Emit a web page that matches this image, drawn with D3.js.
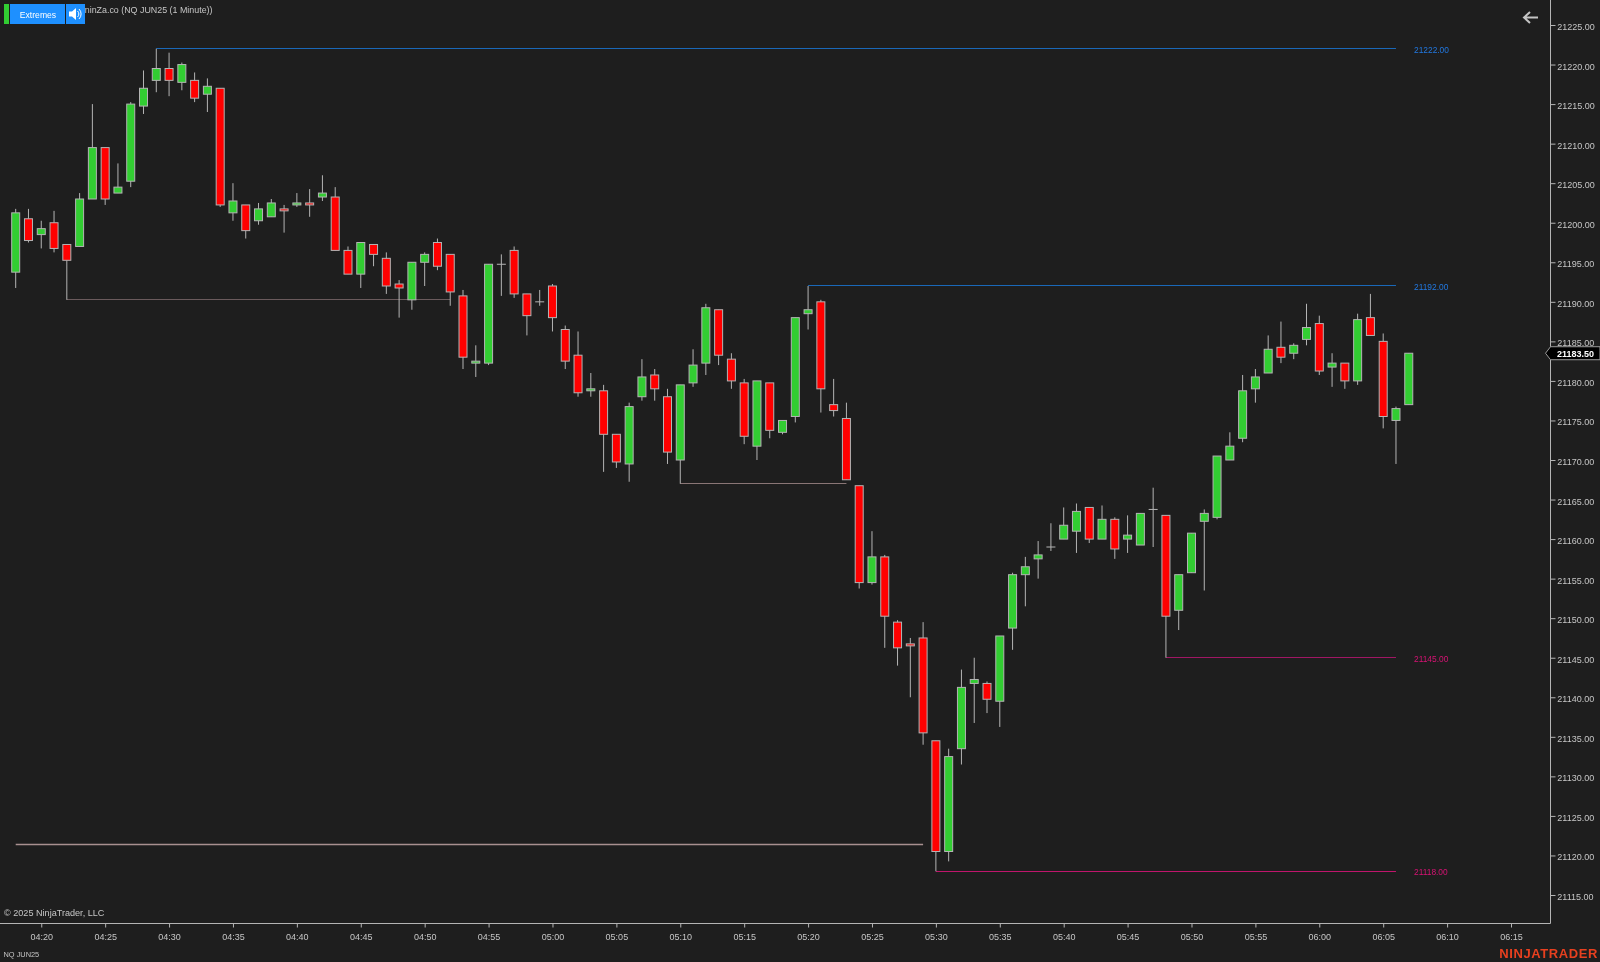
<!DOCTYPE html>
<html>
<head>
<meta charset="utf-8">
<script src="https://cdn.jsdelivr.net/npm/d3@7"></script>
<style>
html, body { margin: 0; padding: 0; background: #1e1e1e; overflow: hidden; }
svg { display: block; filter: blur(0.3px); }
text { font-family: "Liberation Sans", Arial, sans-serif; }
</style>
</head>
<body>
<div id="chart"></div>
<script>
// one candle per minute, first one is 04:18
var firstMinute = 4 * 60 + 18;
var opens = [21193.75,21200.5,21198.5,21200,21197.25,21197,21203,21209.5,21203.75,21205.25,
  21214.75,21218,21219.5,21217.75,21218,21216.25,21217,21201.25,21202.25,21200.25,
  21200.75,21201.75,21202.25,21202.5,21203.25,21203.25,21196.5,21193.5,21197.25,21195.5,
  21192.25,21190.25,21195,21197.5,21196,21190.75,21182.25,21182.25,21194.75,21196.5,
  21191,21190,21192,21186.5,21183.25,21178.75,21178.75,21173.25,21169.5,21178,
  21180.75,21178,21170,21179.75,21182.25,21189,21182.75,21179.75,21171.75,21179.75,
  21173.5,21175.5,21188.5,21190,21177,21175.25,21166.75,21154.5,21157.75,21149.5,
  21146.75,21147.5,21134.5,21120.5,21133.5,21141.75,21141.75,21139.5,21148.75,21155.5,
  21157.5,21159,21160,21161,21164,21160,21162.5,21160,21159.25,21163.75,
  21163,21151,21155.75,21162.25,21162.75,21170,21172.75,21179,21181,21184.25,
  21183.5,21185.25,21187.25,21181.75,21182.25,21180,21188,21185,21175,21177];
var highs = [21201.75,21201.75,21200.25,21201.5,21197.25,21203.75,21215,21209.5,21207.5,21215.25,
  21219.25,21222,21221.5,21220.25,21219,21218.25,21217,21205,21202.25,21202.5,
  21203,21202.25,21203.75,21204.25,21206,21204.5,21197,21197.5,21197.25,21196.25,
  21192.75,21195,21196.25,21198,21196,21191.5,21184.5,21194.75,21196,21197,
  21191,21191.5,21192.25,21187,21186.25,21181,21179.5,21173.25,21177.25,21182.75,
  21181.5,21179,21179.5,21184,21189.75,21189,21183.5,21180.25,21180,21179.75,
  21175,21188,21192,21190.25,21180.25,21177.25,21166.75,21161,21158,21149.75,
  21147.5,21149.5,21134.5,21133.5,21143.5,21145,21142,21147.75,21155.75,21157.75,
  21159.75,21162,21164,21164.5,21164,21164.25,21162.75,21163,21163.25,21166.5,
  21163,21155.5,21160.75,21163.75,21170.5,21173.5,21180.75,21181.5,21185.75,21187.5,
  21184.75,21189.75,21188.25,21183.5,21182.25,21188.5,21191,21186,21176.75,21183.5];
var lows = [21191.75,21197.5,21196.75,21196.25,21190.25,21197,21203,21202.25,21203.75,21204.5,
  21213.75,21216.5,21216,21216.75,21215.25,21214,21202,21200.25,21198,21199.75,
  21200.75,21198.75,21202,21200.75,21202.75,21196.5,21193.5,21191.75,21194.5,21191,
  21188,21189,21192,21194,21189.5,21181.5,21180.5,21182,21190.75,21190.5,
  21185.75,21189.5,21186.25,21181.5,21178,21178,21168.5,21169,21167.25,21177.5,
  21177.5,21169.5,21167,21179.25,21180.75,21182,21179,21172,21170,21172.75,
  21173.25,21174.75,21186.5,21176,21175.5,21167.5,21153.75,21154.25,21146.25,21144,
  21140,21134,21118,21119.25,21131.5,21136.75,21138,21136.25,21146,21151.5,
  21155,21158.5,21160,21158.25,21159.5,21160,21157.5,21158.25,21159.25,21159,
  21145,21148.5,21155.75,21153.5,21162.5,21170,21172.25,21177.25,21181,21182.25,
  21182.75,21184.5,21180.75,21179.25,21179,21179.5,21185.75,21174,21169.5,21177];
var closes = [21201.25,21197.75,21199.25,21196.75,21195.25,21203,21209.5,21203,21204.5,21215,
  21217,21219.5,21218,21220,21215.75,21217.25,21202.25,21202.75,21199,21201.75,
  21202.5,21201.5,21202.5,21202.25,21203.75,21196.5,21193.5,21197.5,21196,21192,
  21191.75,21195,21196,21194.5,21191.25,21183,21182.5,21194.75,21194.75,21191,
  21188.25,21190,21188,21182.5,21178.5,21179,21173.25,21169.75,21176.75,21180.5,
  21179,21171,21179.5,21182,21189.25,21183.25,21180,21173,21180,21173.75,
  21175,21188,21189,21179,21176.25,21167.5,21154.5,21157.75,21150.25,21146.25,
  21146.5,21135.5,21120.5,21132.5,21141.25,21142.25,21139.75,21147.75,21155.5,21156.5,
  21158,21159,21161.75,21163.5,21160,21162.5,21158.75,21160.5,21163.25,21163.75,
  21150.25,21155.5,21160.75,21163.25,21170.5,21171.75,21178.75,21180.5,21184,21183,
  21184.5,21186.75,21181.25,21182.25,21180,21187.75,21185.75,21175.5,21176.5,21183.5];

// extreme lines, start and end are bar numbers
var levelPrices = [21222, 21192, 21190.25, 21167, 21145, 21121.4, 21118];
var levelStarts = [11, 62, 4, 52, 90, 0, 72];
var levelEnds = [108, 108, 34, 65, 108, 71, 108];
var levelLabels = ["21222.00", "21192.00", "", "", "21145.00", "", "21118.00"];
var lastPrice = 21183.5;

var priceTicks = [21115,21120,21125,21130,21135,21140,21145,21150,21155,21160,21165,21170,
  21175,21180,21185,21190,21195,21200,21205,21210,21215,21220,21225];
var timeTicks = ["04:20","04:25","04:30","04:35","04:40","04:45","04:50","04:55","05:00","05:05",
  "05:10","05:15","05:20","05:25","05:30","05:35","05:40","05:45","05:50","05:55",
  "06:00","06:05","06:10","06:15"];

var width = 1600, height = 962;
var axisX = 1550.5, axisY = 923.5;
var grey = "#b4b4b4";
var textGrey = "#c6c6c6";

// line colours, same order as levelPrices
var levelColors = ["#1a68b8", "#1a68b8", "#6a5a5c", "#8a7676", "#a01764", "#a89090", "#c0156c"];
var levelWidths = [1, 1, 1, 1, 1, 1.6, 1];
var labelColors = ["#2278e0", "#2278e0", "", "", "#d81274", "", "#d81274"];

function toMinute(s) {
  var p = s.split(":");
  return +p[0] * 60 + +p[1];
}
function pad(n) { return (n < 10 ? "0" : "") + n; }
function levelY(i) { return Math.floor(y(levelPrices[i]) - 0.05) + 0.5; }

var x = d3.scaleLinear().domain([firstMinute, 6 * 60 + 15]).range([15.7, 1511]);
var y = d3.scaleLinear().domain([21115, 21225]).range([895, 25]);

var bars = d3.range(opens.length).map(function(i) {
  return { minute: firstMinute + i, open: opens[i], high: highs[i], low: lows[i], close: closes[i] };
});

var svg = d3.select("#chart").append("svg")
  .attr("width", width)
  .attr("height", height);

svg.append("rect").attr("width", width).attr("height", height).attr("fill", "#1e1e1e");

// title sits partly behind the buttons like in the platform
svg.append("text")
  .attr("x", 212.5).attr("y", 12.5)
  .attr("text-anchor", "end")
  .attr("font-size", 8.9)
  .attr("fill", textGrey)
  .text("ninZa.co (NQ JUN25 (1 Minute))");

// extreme lines
var levels = d3.range(levelPrices.length);
svg.selectAll(".level")
  .data(levels)
  .enter().append("line")
  .attr("class", "level")
  .attr("x1", function(i) { return x(firstMinute + levelStarts[i]); })
  .attr("x2", function(i) { return x(firstMinute + levelEnds[i]); })
  .attr("y1", levelY)
  .attr("y2", levelY)
  .attr("stroke", function(i) { return levelColors[i]; })
  .attr("stroke-width", function(i) { return levelWidths[i]; });

svg.selectAll(".levelLabel")
  .data(levels.filter(function(i) { return levelLabels[i] != ""; }))
  .enter().append("text")
  .attr("class", "levelLabel")
  .attr("x", 1414)
  .attr("y", function(i) { return y(levelPrices[i]) + 4; })
  .attr("font-size", 8.4)
  .attr("fill", function(i) { return labelColors[i]; })
  .text(function(i) { return levelLabels[i]; });

// candles
var candle = svg.selectAll(".candle")
  .data(bars)
  .enter().append("g")
  .attr("class", "candle");

candle.append("line")
  .attr("x1", function(d) { return x(d.minute); })
  .attr("x2", function(d) { return x(d.minute); })
  .attr("y1", function(d) { return y(d.high); })
  .attr("y2", function(d) { return y(d.low); })
  .attr("stroke", grey)
  .attr("stroke-width", 1);

candle.append("rect")
  .attr("x", function(d) { return x(d.minute) - 4; })
  .attr("width", 8)
  .attr("y", function(d) { return y(Math.max(d.open, d.close)); })
  .attr("height", function(d) { return Math.max(Math.abs(y(d.open) - y(d.close)), 0.01); })
  .attr("fill", function(d) { return d.close >= d.open ? "#32cd32" : "#ff0000"; })
  .attr("stroke", grey)
  .attr("stroke-width", 1);

// axes
var yAxis = d3.axisRight(y)
  .tickValues(priceTicks)
  .tickFormat(d3.format(".2f"))
  .tickSize(5)
  .tickPadding(1.5);
var gy = svg.append("g")
  .attr("transform", "translate(" + axisX + ",0)")
  .call(yAxis);

var xAxis = d3.axisBottom(x)
  .tickValues(timeTicks.map(toMinute))
  .tickFormat(function(m) { return pad(Math.floor(m / 60)) + ":" + pad(m % 60); })
  .tickSize(4)
  .tickPadding(6);
var gx = svg.append("g")
  .attr("transform", "translate(0," + axisY + ")")
  .call(xAxis);

[gx, gy].forEach(function(g) {
  g.select(".domain").remove();
  g.selectAll("line").attr("stroke", grey);
  g.selectAll("text").attr("fill", textGrey).attr("font-size", 9)
    .attr("font-family", '"Liberation Sans", Arial, sans-serif');
});
// price labels sit a bit under their tick
gy.selectAll("text").attr("y", 1.6).attr("x", 6.8);

svg.append("line").attr("x1", axisX).attr("x2", axisX).attr("y1", 0).attr("y2", axisY).attr("stroke", grey);
svg.append("line").attr("x1", 0).attr("x2", axisX).attr("y1", axisY).attr("y2", axisY).attr("stroke", grey);

// last price marker
var py = y(lastPrice);
svg.append("path")
  .attr("d", "M1545.5," + py + "L1550.5," + (py - 6.5) + "H1600V" + (py + 6.5) + "H1550.5Z")
  .attr("fill", "#000")
  .attr("stroke", "#9a9a9a");
svg.append("text")
  .attr("x", 1557).attr("y", py + 3.5)
  .attr("font-size", 9)
  .attr("font-weight", "bold")
  .attr("fill", "#fff")
  .text(d3.format(".2f")(lastPrice));

// buttons
svg.append("rect").attr("x", 4).attr("y", 4).attr("width", 5).attr("height", 20).attr("fill", "#32cd32");
svg.append("rect").attr("x", 10).attr("y", 4).attr("width", 55).attr("height", 20).attr("fill", "#1e90ff");
svg.append("rect").attr("x", 66).attr("y", 4).attr("width", 19).attr("height", 20).attr("fill", "#1e90ff");
svg.append("text")
  .attr("x", 38).attr("y", 18)
  .attr("text-anchor", "middle")
  .attr("font-size", 8.6)
  .attr("fill", "#fff")
  .text("Extremes");
svg.append("path")
  .attr("d", "M69,11.5h3l4,-3.5v12l-4,-3.5h-3Z")
  .attr("fill", "#fff");
svg.append("path")
  .attr("d", "M77.5,11a4,4 0 0 1 0,6M79,9a7,7 0 0 1 0,10")
  .attr("fill", "none")
  .attr("stroke", "#fff")
  .attr("stroke-width", 1);

// back arrow
svg.append("path")
  .attr("d", "M1538,17.5H1524M1530,12L1524,17.5L1530,23")
  .attr("fill", "none")
  .attr("stroke", "#c4c4c4")
  .attr("stroke-width", 2);

// footer texts
svg.append("text")
  .attr("x", 4).attr("y", 915.5)
  .attr("font-size", 9.1)
  .attr("fill", textGrey)
  .text("© 2025 NinjaTrader, LLC");
svg.append("text")
  .attr("x", 3.5).attr("y", 957)
  .attr("font-size", 7.4)
  .attr("fill", textGrey)
  .text("NQ JUN25");
svg.append("text")
  .attr("x", 1598).attr("y", 958)
  .attr("text-anchor", "end")
  .attr("font-size", 13)
  .attr("font-weight", "bold")
  .attr("letter-spacing", 0.6)
  .attr("fill", "#e8401f")
  .text("NINJATRADER");
</script>
</body>
</html>
